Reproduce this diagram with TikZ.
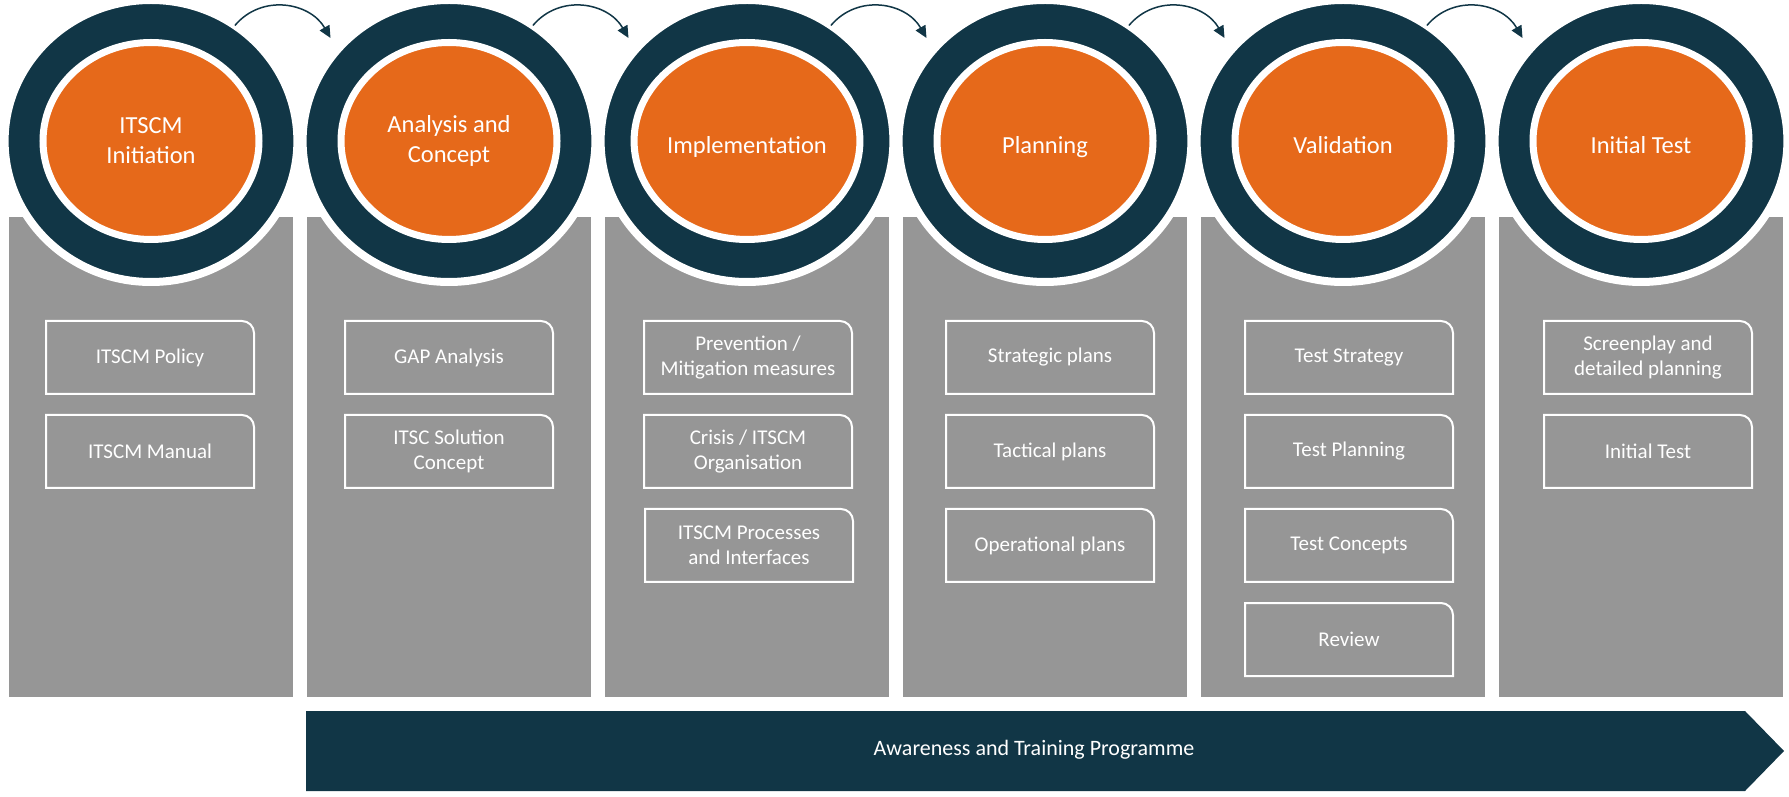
\documentclass[tikz,border=0pt]{standalone}
\usepackage{fontspec}
\setmainfont{Carlito}
\usetikzlibrary{shapes.geometric,arrows.meta}

\definecolor{navy}{RGB}{17,54,70}
\definecolor{flame}{RGB}{230,105,26}
\definecolor{colgrey}{RGB}{150,150,150}

\tikzset{
  ring/.style={ellipse, fill=navy, draw=white, line width=8pt, outer sep=0pt,
    inner sep=0pt, minimum width=292.8pt, minimum height=282pt},
  stage/.style={ellipse, fill=flame, draw=white, line width=7pt, outer sep=0pt,
    inner sep=0pt, minimum width=216pt, minimum height=197pt, text=white,
    align=center, font=\fontsize{24.5}{30}\selectfont},
  oneline/.style={text height=31pt, text depth=5pt},
  item/.style={minimum width=208pt, minimum height=73pt, inner sep=0pt,
    outer sep=0pt, text=white, align=center, font=\fontsize{21}{25.5}\selectfont},
  itemline/.style={draw=white, line width=2pt},
  hop/.style={-{Triangle[length=12pt,width=11pt]}, draw=navy, line width=1.5pt,
    out=50, in=120, looseness=1.1},
  banner/.style={text=white, font=\fontsize{22}{26}\selectfont}
}

\begin{document}
\begin{tikzpicture}[x=1pt,y=1pt]
    \useasboundingbox (0,0) rectangle (1789,796);
    % columns
    \fill [colgrey] (9,99) rectangle (293,579);
    \fill [colgrey] (307,99) rectangle (591,579);
    \fill [colgrey] (605,99) rectangle (889,579);
    \fill [colgrey] (903,99) rectangle (1187,579);
    \fill [colgrey] (1201,99) rectangle (1485,579);
    \fill [colgrey] (1499,99) rectangle (1783,579);
    % 1
    \node [ring] (ring1) at (151,655) {};
    \node [stage] (stage1) at (151,655) {ITSCM\\Initiation};
    \node [item] (init1) at (150,438.5) {ITSCM Policy};
    \node [item] (init2) at (150,344.5) {ITSCM Manual};
    % 2
    \node [ring] (ring2) at (449,655) {};
    \node [stage] (stage2) at (449,655) {Analysis and\\Concept};
    \node [item] (ana1) at (449,438.5) {GAP Analysis};
    \node [item] (ana2) at (449,344.5) {ITSC Solution\\Concept};
    % 3
    \node [ring] (ring3) at (747,655) {};
    \node [stage, oneline] (stage3) at (747,655) {Implementation};
    \node [item] (impl1) at (748,438.5) {Prevention /\\Mitigation measures};
    \node [item] (impl2) at (748,344.5) {Crisis / ITSCM\\Organisation};
    \node [item] (impl3) at (749,250.5) {ITSCM Processes\\and Interfaces};
    % 4
    \node [ring] (ring4) at (1045,655) {};
    \node [stage, oneline] (stage4) at (1045,655) {Planning};
    \node [item] (plan1) at (1050,438.5) {Strategic plans};
    \node [item] (plan2) at (1050,344.5) {Tactical plans};
    \node [item] (plan3) at (1050,250.5) {Operational plans};
    % 5
    \node [ring] (ring5) at (1343,655) {};
    \node [stage, oneline] (stage5) at (1343,655) {Validation};
    \node [item] (val1) at (1349,438.5) {Test Strategy};
    \node [item] (val2) at (1349,344.5) {Test Planning};
    \node [item] (val3) at (1349,250.5) {Test Concepts};
    \node [item] (val4) at (1349,156.5) {Review};
    % 6
    \node [ring] (ring6) at (1641,655) {};
    \node [stage, oneline] (stage6) at (1641,655) {Initial Test};
    \node [item] (test1) at (1648,438.5) {Screenplay and\\detailed planning};
    \node [item] (test2) at (1648,344.5) {Initial Test};
    % box outlines, top right corner rounded
    \foreach \b in {init1,init2,ana1,ana2,impl1,impl2,impl3,plan1,plan2,plan3,
                    val1,val2,val3,val4,test1,test2}
      \draw [itemline] (\b.south west) -- (\b.north west)
        -- ([xshift=-12pt]\b.north east) arc [start angle=90, end angle=0, radius=12pt]
        -- (\b.south east) -- cycle;
    % arrows
    \draw [hop] (ring1.54) to ([shift={(139:13)}]ring2.139);
    \draw [hop] (ring2.54) to ([shift={(139:13)}]ring3.139);
    \draw [hop] (ring3.54) to ([shift={(139:13)}]ring4.139);
    \draw [hop] (ring4.54) to ([shift={(139:13)}]ring5.139);
    \draw [hop] (ring5.54) to ([shift={(139:13)}]ring6.139);
    % programme
    \fill [navy] (306,85) -- (1745,85) -- (1784,45) -- (1745,5) -- (306,5) -- cycle;
    \node [banner] (band) at (1034,46) {Awareness and Training Programme};
  \end{tikzpicture}
\end{document}
